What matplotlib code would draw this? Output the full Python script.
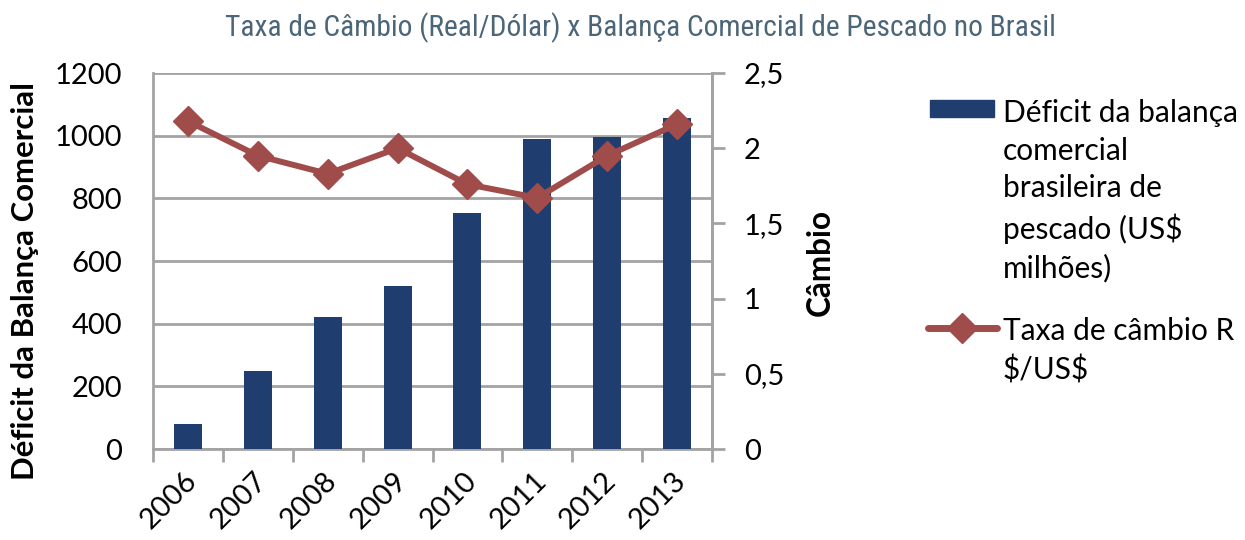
import matplotlib
matplotlib.use("Agg")
import matplotlib.pyplot as plt
from matplotlib.patches import Rectangle
from matplotlib.lines import Line2D
from matplotlib import font_manager
from matplotlib.transforms import ScaledTranslation
import numpy as np

years = ["2006", "2007", "2008", "2009", "2010", "2011", "2012", "2013"]
deficit = [80, 250, 420, 520, 752, 990, 995, 1055]
cambio = [2.18, 1.95, 1.83, 2.00, 1.76, 1.67, 1.95, 2.16]
left_ticks = [0, 200, 400, 600, 800, 1000, 1200]
right_ticks = [0, 0.5, 1, 1.5, 2, 2.5]
right_labels = ["0", "0,5", "1", "1,5", "2", "2,5"]

title = "Taxa de Câmbio (Real/Dólar) x Balança Comercial de Pescado no Brasil"
ylabel_left = "Déficit da Balança Comercial"
ylabel_right = "Câmbio"
legend_bar = "Déficit da balança\ncomercial\nbrasileira de\npescado (US\\$\nmilhões)"
legend_line = "Taxa de câmbio R\n\\$/US\\$"

BAR_C = "#1f3d6f"
LINE_C = "#a04c4a"
GRID_C = "#a3a3a3"
TITLE_C = "#4b6579"
FONT = ["Lato", "DejaVu Sans"]

plt.rcParams["font.family"] = FONT


def condensed_font():
    prefs = ["Liberation Sans Narrow", "Roboto Condensed", "Open Sans Condensed",
             "DejaVu Sans Condensed", "Noto Sans Condensed"]
    entries = font_manager.fontManager.ttflist
    for p in prefs:
        for e in entries:
            if e.name == p and e.style == "normal" and e.weight in (400, "normal", "regular"):
                return font_manager.FontProperties(fname=e.fname)
    for e in entries:
        st = str(e.stretch)
        if (("Narrow" in e.name or "Condensed" in e.name or st in ("condensed", "semi-condensed"))
                and e.style == "normal" and e.weight in (400, "normal", "regular")
                and "Mono" not in e.name and "Serif" not in e.name):
            return font_manager.FontProperties(fname=e.fname)
    return font_manager.FontProperties(family=["DejaVu Sans"], stretch="condensed")


fig = plt.figure(figsize=(12.45, 5.4), dpi=100)
W, H = 1245, 540
ax = fig.add_axes([153 / W, 1 - 449 / H, (712 - 153) / W, (449 - 73) / H])
ax2 = ax.twinx()

x = np.arange(len(years))
ax.bar(x, deficit, width=0.4, color=BAR_C, zorder=3)
ax.set_xlim(-0.5, len(years) - 0.5)
ax.set_ylim(0, 1200)
ax.set_yticks(left_ticks)
ax.set_yticklabels([str(v) for v in left_ticks], fontsize=21)
ax.yaxis.grid(True, color=GRID_C, linewidth=2, zorder=0)
ax.set_axisbelow(True)
ax.tick_params(axis="y", length=0, pad=22)
ax.set_xticks(np.arange(-0.5, len(years), 1.0), minor=False)
ax.set_xticklabels([])
ax.tick_params(axis="x", which="major", length=9, width=2, color=GRID_C, direction="out")
ax.set_xticks(x, minor=True)
ax.set_xticklabels(years, minor=True, rotation=45, ha="right", va="center",
                   rotation_mode="anchor", fontsize=21)
ax.tick_params(axis="x", which="minor", length=0, pad=20)
for lab in ax.get_xticklabels(minor=True):
    lab.set_transform(lab.get_transform() + ScaledTranslation(5 / 100, 0, fig.dpi_scale_trans))
for s in ["left", "bottom", "right"]:
    ax.spines[s].set_color(GRID_C)
    ax.spines[s].set_linewidth(2)
ax.spines["top"].set_visible(False)

ax2.plot(x, cambio, color=LINE_C, linewidth=4.3, marker="D", markersize=15, zorder=4)
ax2.set_ylim(0, 2.5)
ax2.set_yticks(right_ticks)
ax2.set_yticklabels(right_labels, fontsize=21)
ax2.tick_params(axis="y", length=9, width=2, color=GRID_C, pad=14)
for s in ["left", "bottom", "top"]:
    ax2.spines[s].set_visible(False)
ax2.spines["right"].set_color(GRID_C)
ax2.spines["right"].set_linewidth(2)

renderer = fig.canvas.get_renderer()


def fit(t, target, vertical=False):
    bb = t.get_window_extent(renderer)
    cur = bb.height if vertical else bb.width
    t.set_fontsize(t.get_fontsize() * target / cur)


# axis labels
yl = fig.text(25 / W, 1 - 281 / H, ylabel_left, rotation=90, ha="center", va="center",
              fontsize=22, fontweight="bold")
fit(yl, 397, vertical=True)
yr = fig.text(820 / W, 1 - 262 / H, ylabel_right, rotation=90, ha="center", va="center",
              fontsize=22, fontweight="bold")
fit(yr, 107, vertical=True)

tp = condensed_font()
tt = fig.text(640 / W, 1 - 28 / H, title, ha="center", va="center", fontproperties=tp,
              fontsize=20, color=TITLE_C)
fit(tt, 830)

# legend
fig.add_artist(Rectangle((930 / W, 1 - 117 / H), 64 / W, 17 / H,
                         transform=fig.transFigure, color=BAR_C))
lb = fig.text(1003 / W, 1 - 99 / H, legend_bar, ha="left", va="top", fontsize=21.5,
              linespacing=1.42, transform=fig.transFigure)
fig.add_artist(Line2D([928 / W, 997 / W], [1 - 328 / H, 1 - 328 / H], color=LINE_C,
                      linewidth=5, solid_capstyle="round", transform=fig.transFigure))
fig.add_artist(Line2D([962 / W], [1 - 328 / H], color=LINE_C, marker="D",
                      markersize=15, linestyle="none", transform=fig.transFigure))
fig.text(1003 / W, 1 - 317 / H, legend_line, ha="left", va="top", fontsize=21.5,
         linespacing=1.42, transform=fig.transFigure)

fig.savefig("out.png", dpi=100)
